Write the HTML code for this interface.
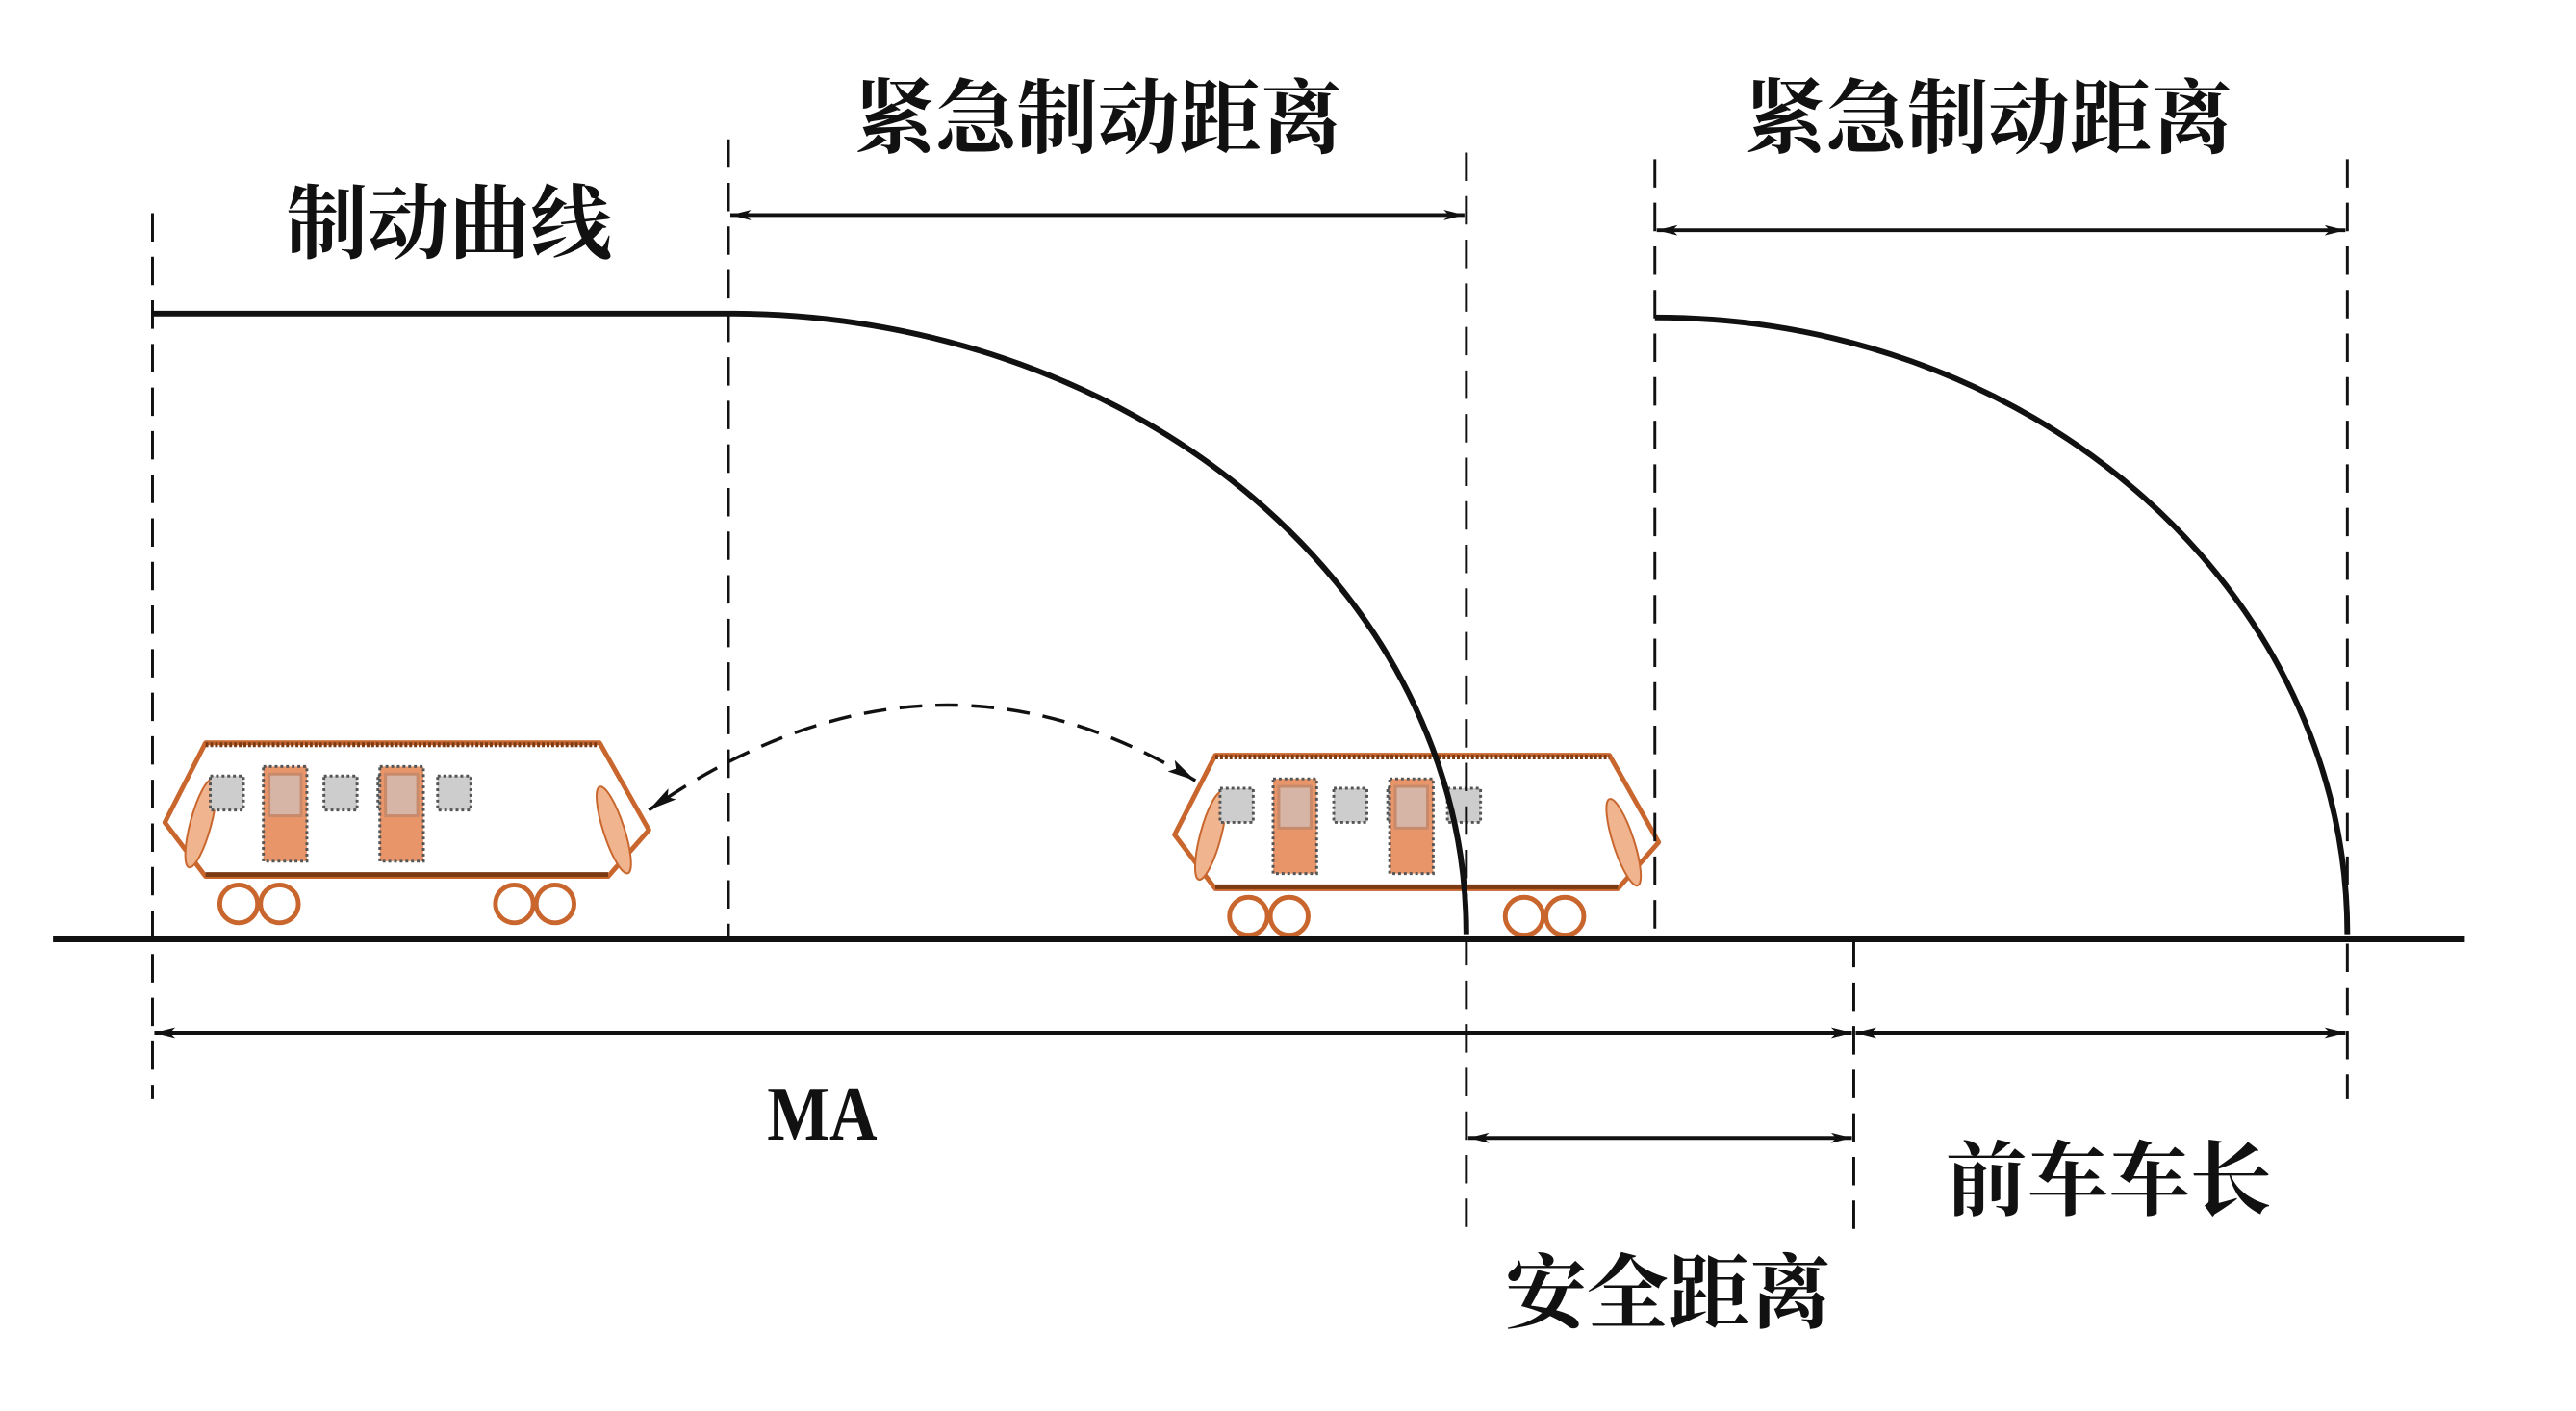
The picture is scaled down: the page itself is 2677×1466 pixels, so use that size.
<!DOCTYPE html>
<html><head><meta charset="utf-8"><style>
html,body{margin:0;padding:0;background:#fff;}
svg{display:block;}
text{font-family:"Liberation Serif","Noto Serif CJK SC","Noto Sans CJK SC",serif;fill:#111;}
</style></head><body>
<svg width="2677" height="1466" viewBox="0 0 2677 1466" xmlns="http://www.w3.org/2000/svg">
<defs>
<marker id="ah" viewBox="0 0 20 10" refX="20" refY="5" markerWidth="22" markerHeight="11" markerUnits="userSpaceOnUse" orient="auto-start-reverse">
<path d="M0,0 L20,5 L0,10 L5,5 Z" fill="#111"/></marker>
<marker id="ah2" viewBox="0 0 30 14" refX="30" refY="7" markerWidth="30" markerHeight="14" markerUnits="userSpaceOnUse" orient="auto-start-reverse">
<path d="M0,0 L30,7 L0,14 L6,7 Z" fill="#111"/></marker>
<g id="train">
<polygon points="43,0 459,0 511,92 468,141 43,141 0,84" fill="#fff" stroke="#c8662e" stroke-width="5" stroke-linejoin="round"/>
<line x1="43" y1="2" x2="459" y2="2" stroke="#7a3a14" stroke-width="5" stroke-dasharray="3,2"/>
<line x1="43" y1="139" x2="468" y2="139" stroke="#7a3a14" stroke-width="5"/>
<ellipse cx="38" cy="85" rx="11" ry="48" transform="rotate(15 38 85)" fill="#f0b48e" stroke="#c8662e" stroke-width="2"/>
<ellipse cx="474" cy="92" rx="11" ry="48" transform="rotate(-18 474 92)" fill="#f0b48e" stroke="#c8662e" stroke-width="2"/>
<g fill="#cdcdcd" stroke="#555" stroke-width="3" stroke-dasharray="3,3">
<rect x="48" y="35" width="35" height="36"/>
<rect x="168" y="35" width="35" height="36"/>
<rect x="225" y="35" width="35" height="36"/>
<rect x="288" y="35" width="35" height="36"/>
</g>
<g stroke="#555" stroke-width="3" stroke-dasharray="3,3">
<rect x="104" y="25" width="46" height="100" fill="#e8956a"/>
<rect x="227" y="25" width="46" height="100" fill="#e8956a"/>
</g>
<rect x="110" y="33" width="34" height="44" fill="#d6b4a6" stroke="#c78a6a" stroke-width="3"/>
<rect x="233" y="33" width="34" height="44" fill="#d6b4a6" stroke="#c78a6a" stroke-width="3"/>
<g fill="#fff" stroke="#c8662e" stroke-width="5">
<circle cx="78" cy="170" r="20"/><circle cx="121" cy="170" r="20"/>
<circle cx="369" cy="170" r="20"/><circle cx="412" cy="170" r="20"/>
</g>
</g>
</defs>
<g transform="scale(0.9844)">
<use href="#train" transform="translate(174,784)"/>
<use href="#train" transform="translate(1240,797)"/>

<g stroke="#111" stroke-width="3" stroke-dasharray="30,16" fill="none">
<line x1="161" y1="225" x2="161" y2="1160"/>
<line x1="769" y1="147" x2="769" y2="991"/>
<line x1="1548" y1="161" x2="1548" y2="1302"/>
<line x1="1747" y1="168" x2="1747" y2="991"/>
<line x1="1957" y1="991" x2="1957" y2="1302"/>
<line x1="2478" y1="168" x2="2478" y2="1160"/>
</g>

<line x1="56" y1="991" x2="2602" y2="991" stroke="#111" stroke-width="7"/>

<path d="M161,331 L775,331 A779,655 0 0 1 1548,986" fill="none" stroke="#111" stroke-width="6"/>
<path d="M1747,335 A731,651 0 0 1 2478,986" fill="none" stroke="#111" stroke-width="6"/>

<g stroke="#111" stroke-width="4" fill="none">
<line x1="771" y1="227" x2="1546" y2="227" marker-start="url(#ah)" marker-end="url(#ah)"/>
<line x1="1749" y1="243" x2="2476" y2="243" marker-start="url(#ah)" marker-end="url(#ah)"/>
<line x1="163" y1="1090" x2="1955" y2="1090" marker-start="url(#ah)" marker-end="url(#ah)"/>
<line x1="1959" y1="1090" x2="2476" y2="1090" marker-start="url(#ah)" marker-end="url(#ah)"/>
<line x1="1550" y1="1201" x2="1955" y2="1201" marker-start="url(#ah)" marker-end="url(#ah)"/>
</g>

<path d="M1262,824 Q980,650 685,855" fill="none" stroke="#111" stroke-width="3.5" stroke-dasharray="24,14" marker-start="url(#ah2)" marker-end="url(#ah2)"/>

<g font-size="86" font-weight="bold" text-anchor="middle">
<text x="1159" y="155">紧急制动距离</text>
<text x="2099" y="155">紧急制动距离</text>
<text x="474" y="266">制动曲线</text>
<text x="2226" y="1276">前车车长</text>
<text x="1761" y="1395">安全距离</text>
</g>
<text x="868" y="1203" font-size="82" font-weight="bold" text-anchor="middle" transform="translate(868,0) scale(0.85,1) translate(-868,0)">MA</text>
</g>
</svg>
</body></html>
